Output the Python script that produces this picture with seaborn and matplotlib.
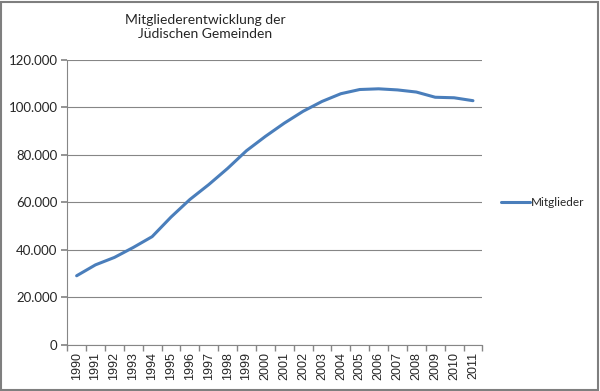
import matplotlib
matplotlib.use("Agg")
import matplotlib.pyplot as plt
import seaborn as sns
import pandas as pd
import numpy as np
from matplotlib.patches import Rectangle
from matplotlib.ticker import FuncFormatter, FixedLocator

# Mitglieder der jüdischen Gemeinden
years = [str(y) for y in range(1990, 2012)]
members = [29089, 33692, 36804, 41000, 45559, 53797, 61203, 67471, 74289, 81739,
           87756, 93326, 98335, 102472, 105733, 107500, 107794, 107330, 106435,
           104241, 104024, 102797]
yticks = [0, 20000, 40000, 60000, 80000, 100000, 120000]

df = pd.DataFrame({"Jahr": years, "Mitglieder": members})
df["pos"] = np.arange(len(years))

sns.set_theme(style="white")
plt.rcParams["font.family"] = ["Lato", "DejaVu Sans"]

fig = plt.figure(figsize=(6, 3.91), dpi=100)
ax = fig.add_axes([0.112, 0.118, 0.692, 0.729])

sns.lineplot(data=df, x="pos", y="Mitglieder", ax=ax, color="#4A7EBB",
             linewidth=2.2, label="Mitglieder")

ax.set_xlim(-0.5, len(years) - 0.5)
ax.set_ylim(0, 120000)
ax.set_yticks(yticks)
ax.yaxis.set_major_formatter(FuncFormatter(lambda v, p: f"{int(v):,}".replace(",", ".")))
ax.yaxis.grid(True, color="#868686", linewidth=0.8)
ax.set_axisbelow(True)

ax.set_xticks(df["pos"])
ax.set_xticklabels(years, rotation=90, fontsize=9, family="Liberation Sans")
ax.tick_params(axis="x", which="major", length=0, pad=5)
ax.xaxis.set_minor_locator(FixedLocator(np.arange(-0.5, len(years), 1)))
ax.tick_params(axis="x", which="minor", length=4, color="#868686", direction="out",
               bottom=True)
ax.tick_params(axis="y", labelsize=9.5, length=4, color="#868686", direction="out",
               left=True, pad=3)
ax.set_xlabel("")
ax.set_ylabel("")

for side in ["top", "right"]:
    ax.spines[side].set_visible(False)
for side in ["left", "bottom"]:
    ax.spines[side].set_color("#868686")
    ax.spines[side].set_linewidth(0.8)

ax.legend(loc="center left", bbox_to_anchor=(1.02, 0.5), frameon=False,
          fontsize=8.5, handlelength=2.4, handletextpad=0.1)

fig.text(0.342, 0.965, "Mitgliederentwicklung der\nJüdischen Gemeinden",
         ha="center", va="top", fontsize=10, linespacing=1.25)

fig.patches.append(Rectangle((0.002, 0.003), 0.995, 0.993, transform=fig.transFigure,
                             fill=False, edgecolor="#7f7f7f", linewidth=1.5))

fig.savefig("out.png", dpi=100)
plt.close(fig)
